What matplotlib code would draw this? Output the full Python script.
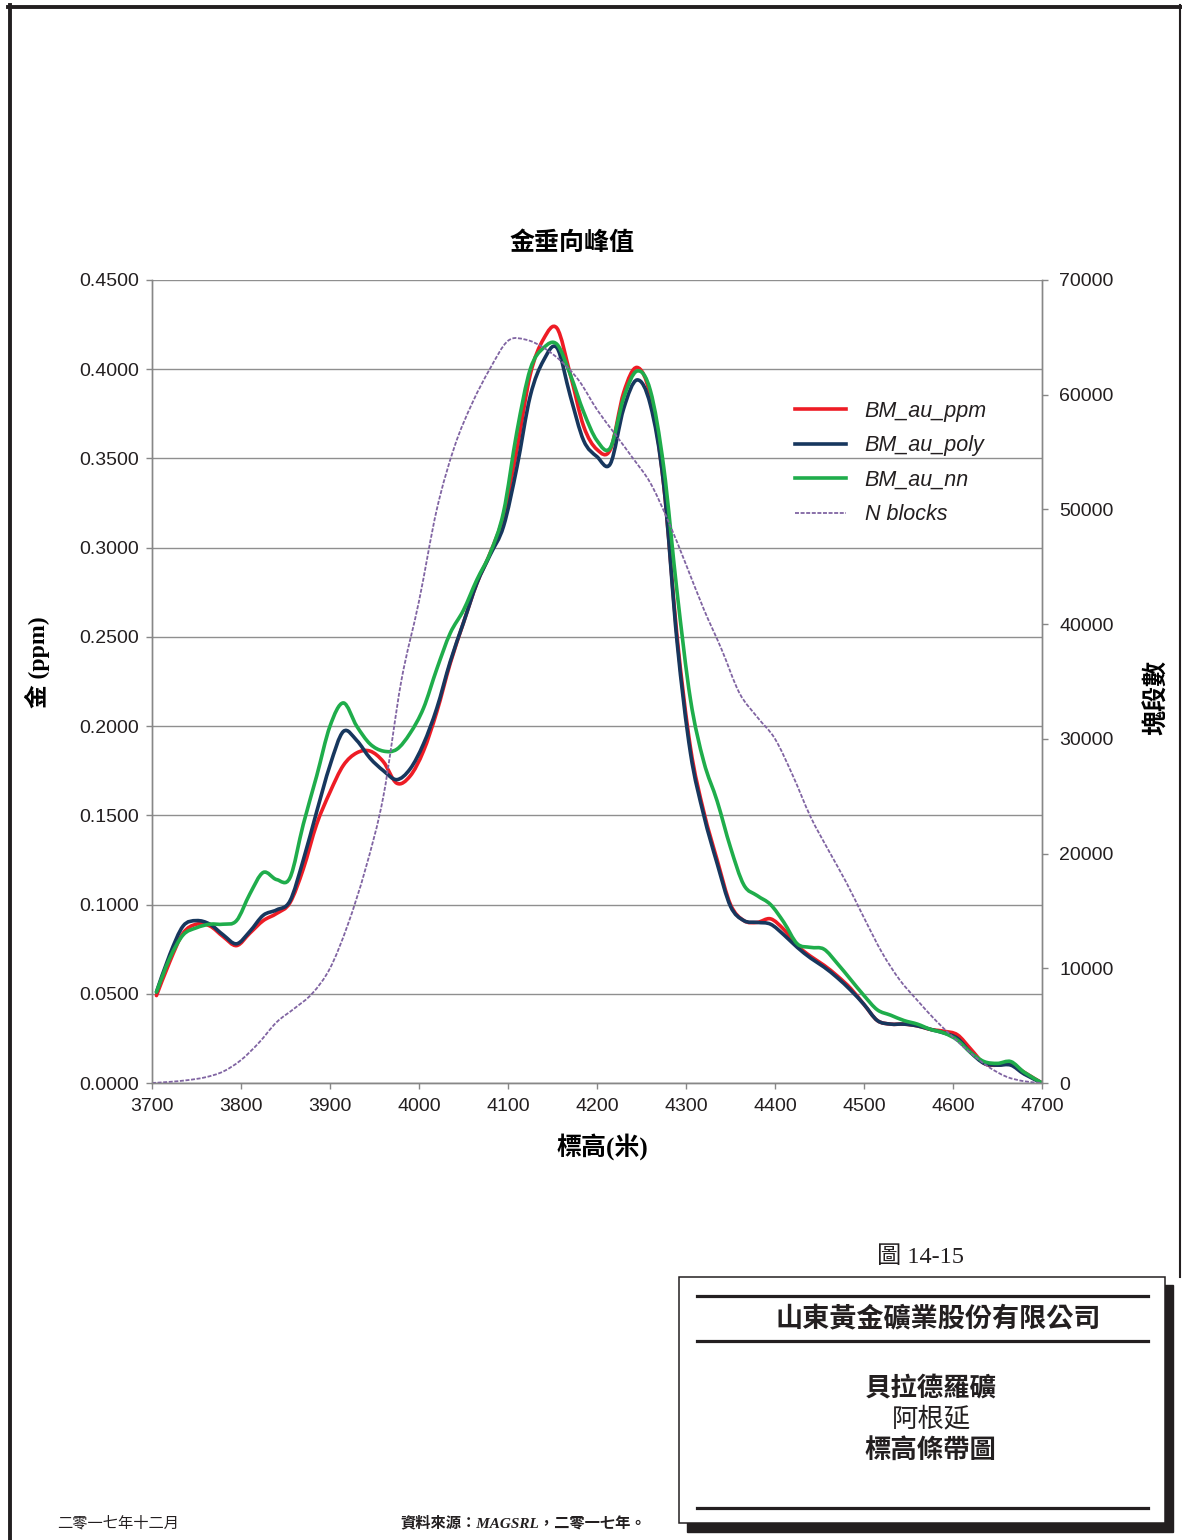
import numpy as np
import matplotlib
matplotlib.use("Agg")
from matplotlib import pyplot as plt
from matplotlib.path import Path
from matplotlib.patches import PathPatch, Rectangle
from matplotlib.lines import Line2D

# elevation (m) of each bench used for the grade curves
elev = [3705, 3720, 3735, 3750, 3765, 3780, 3795, 3810, 3825, 3840, 3855, 3870,
        3885, 3900, 3915, 3930, 3945, 3960, 3975, 3990, 4005, 4020, 4035, 4050,
        4065, 4080, 4095, 4110, 4125, 4140, 4155, 4170, 4185, 4200, 4215, 4230,
        4245, 4260, 4275, 4290, 4305, 4320, 4335, 4350, 4365, 4380, 4395, 4410,
        4425, 4440, 4455, 4470, 4485, 4500, 4515, 4530, 4545, 4560, 4575, 4590,
        4605, 4620, 4635, 4650, 4665, 4680, 4700]

au_ppm = [0.049, 0.068, 0.084, 0.089, 0.088, 0.082, 0.077, 0.084, 0.091, 0.095, 0.101, 0.120,
          0.145, 0.163, 0.178, 0.185, 0.186, 0.180, 0.168, 0.172, 0.186, 0.208, 0.235, 0.258,
          0.280, 0.297, 0.318, 0.355, 0.397, 0.417, 0.423, 0.397, 0.368, 0.355, 0.355, 0.387,
          0.401, 0.385, 0.335, 0.250, 0.188, 0.152, 0.125, 0.100, 0.091, 0.090, 0.092, 0.086,
          0.077, 0.071, 0.066, 0.060, 0.053, 0.044, 0.035, 0.033, 0.033, 0.032, 0.030, 0.029,
          0.027, 0.019, 0.011, 0.010, 0.011, 0.006, 0.000]

au_poly = [0.051, 0.072, 0.088, 0.091, 0.089, 0.083, 0.078, 0.085, 0.094, 0.097, 0.102, 0.125,
           0.152, 0.178, 0.197, 0.192, 0.182, 0.175, 0.170, 0.176, 0.190, 0.210, 0.236, 0.258,
           0.280, 0.296, 0.312, 0.345, 0.385, 0.405, 0.412, 0.385, 0.360, 0.351, 0.347, 0.378,
           0.394, 0.380, 0.335, 0.247, 0.185, 0.150, 0.123, 0.099, 0.091, 0.090, 0.089, 0.083,
           0.076, 0.070, 0.065, 0.059, 0.052, 0.044, 0.035, 0.033, 0.033, 0.032, 0.030, 0.028,
           0.025, 0.017, 0.011, 0.010, 0.010, 0.005, 0.000]

au_nn = [0.051, 0.070, 0.083, 0.087, 0.089, 0.089, 0.091, 0.106, 0.118, 0.114, 0.115, 0.145,
         0.172, 0.200, 0.213, 0.200, 0.190, 0.186, 0.187, 0.196, 0.210, 0.232, 0.252, 0.265,
         0.282, 0.297, 0.320, 0.365, 0.400, 0.412, 0.414, 0.397, 0.376, 0.360, 0.356, 0.384,
         0.399, 0.388, 0.345, 0.275, 0.215, 0.180, 0.158, 0.132, 0.111, 0.105, 0.100, 0.090,
         0.078, 0.076, 0.075, 0.067, 0.058, 0.049, 0.041, 0.038, 0.035, 0.033, 0.030, 0.028,
         0.024, 0.017, 0.012, 0.011, 0.012, 0.006, 0.000]

# number of blocks per elevation
blocks_elev = [3700, 3720, 3740, 3760, 3780, 3800, 3820, 3840, 3860, 3880, 3900, 3920, 3940,
               3960, 3980, 4000, 4020, 4040, 4060, 4080, 4100, 4120, 4140, 4160, 4180, 4200,
               4220, 4240, 4260, 4280, 4300, 4320, 4340, 4360, 4380, 4400, 4420, 4440, 4460,
               4480, 4500, 4520, 4540, 4560, 4580, 4600, 4620, 4640, 4660, 4680, 4700]
n_blocks = [0, 100, 250, 500, 1000, 2000, 3500, 5300, 6500, 7800, 10000, 13800, 18700,
            25000, 35000, 42000, 50000, 55500, 59300, 62300, 64700, 64800, 64100, 62900, 61200, 58700,
            56600, 54500, 52300, 49000, 45200, 41300, 37800, 34000, 31900, 30000, 26800, 23200, 20300,
            17500, 14400, 11400, 9000, 7200, 5500, 4000, 2600, 1400, 550, 150, 0]

labels = ["BM_au_ppm", "BM_au_poly", "BM_au_nn", "N blocks"]
colors = ["#ee1c25", "#17375e", "#1fad4b", "#8064a2"]

W, H = 1182, 1540
font = 14
cjk = "Noto Sans CJK TC"


def fx(x):
    return x / W


def fy(y):
    return 1 - y / H


def smooth_path(xs, ys):
    # cubic bezier through the points (excel style smoothed line)
    pts = np.column_stack([xs, ys]).astype(float)
    n = len(pts)
    verts = [pts[0]]
    codes = [Path.MOVETO]
    for i in range(n - 1):
        p0 = pts[i - 1] if i > 0 else pts[i]
        p1 = pts[i]
        p2 = pts[i + 1]
        p3 = pts[i + 2] if i + 2 < n else pts[i + 1]
        verts += [p1 + (p2 - p0) / 6, p2 - (p3 - p1) / 6, p2]
        codes += [Path.CURVE4] * 3
    return Path(verts, codes)


fig = plt.figure(figsize=(W / 100, H / 100), dpi=100)
ax = fig.add_axes([fx(152), fy(1083), fx(1042 - 152), (1083 - 280) / H])
ax2 = ax.twinx()

grey = "#878787"
ax.set_xlim(3700, 4700)
ax.set_ylim(0, 0.45)
ax2.set_ylim(0, 70000)
ax.set_xticks(np.arange(3700, 4701, 100))
ax.set_yticks(np.arange(0, 0.4501, 0.05))
ax2.set_yticks(np.arange(0, 70001, 10000))
ax.set_yticklabels(["%.4f" % v for v in np.arange(0, 0.4501, 0.05)])
ax.yaxis.grid(True, color="#8f8f8f", linewidth=1.0)
ax.set_axisbelow(True)

for a in (ax, ax2):
    for s in a.spines.values():
        s.set_color(grey)
        s.set_linewidth(1.0)
    a.spines["top"].set_visible(False)
    a.tick_params(colors=grey, labelcolor="#231f20", labelsize=font, length=4.5, width=1.0)
    for t in a.get_xticklabels() + a.get_yticklabels():
        t.set_family("Liberation Sans")
ax.tick_params(axis="y", pad=5)
ax.tick_params(axis="x", pad=6)
ax2.tick_params(axis="y", pad=8)

for ys, c in zip([au_ppm, au_poly, au_nn], colors[:3]):
    ax.add_patch(PathPatch(smooth_path(elev, ys), fill=False, edgecolor=c, linewidth=2.6,
                           capstyle="round", joinstyle="round"))
ax2.add_patch(PathPatch(smooth_path(blocks_elev, n_blocks), fill=False, edgecolor=colors[3],
                        linewidth=1.3, linestyle=(0, (2.2, 0.9))))

handles = [Line2D([], [], color=c, linewidth=2.6) for c in colors[:3]]
handles.append(Line2D([], [], color=colors[3], linewidth=1.3, linestyle=(0, (2.2, 0.9))))
leg = fig.legend(handles, labels, loc="upper left", bbox_to_anchor=(fx(795), fy(401)),
                 frameon=False, borderpad=0, borderaxespad=0, handlelength=2.35,
                 handletextpad=0.88, labelspacing=0.62,
                 prop={"family": "Liberation Sans", "style": "italic", "size": 15.5})
for t in leg.get_texts():
    t.set_color("#231f20")

# chart titles
fig.text(fx(572), fy(243), "金垂向峰值", ha="center", va="center", fontsize=18,
         fontweight="bold", family=[cjk])
fig.text(fx(602), fy(1147), "標高(米)", ha="center", va="center", fontsize=18,
         fontweight="bold", family=["Liberation Serif", cjk])
fig.text(fx(37), fy(662), "金 (ppm)", ha="center", va="center", rotation=90, fontsize=17,
         fontweight="bold", family=["Liberation Serif", cjk])
fig.text(fx(1157), fy(697), "塊段數", ha="center", va="center", rotation=90, fontsize=18,
         fontweight="bold", family=[cjk])

# page frame
ink = "#231f20"
fig.add_artist(Line2D([fx(10), fx(10)], [fy(5), fy(1540)], color=ink, linewidth=2.8))
fig.add_artist(Line2D([fx(8), fx(1182)], [fy(7), fy(7)], color=ink, linewidth=2.8))
fig.add_artist(Line2D([fx(1180), fx(1180)], [fy(5), fy(1277)], color=ink, linewidth=1.5))

# caption box with drop shadow
fig.add_artist(Rectangle((fx(687), fy(1532)), fx(1173 - 687), (1532 - 1285) / H,
                         facecolor=ink, edgecolor=ink, transform=fig.transFigure))
fig.add_artist(Rectangle((fx(679), fy(1523)), fx(1165 - 679), (1523 - 1277) / H,
                         facecolor="white", edgecolor=ink, linewidth=1.1, transform=fig.transFigure))
for yy in (1296, 1341, 1508):
    fig.add_artist(Line2D([fx(697), fx(1148)], [fy(yy), fy(yy)], color=ink, linewidth=2.3))

fig.text(fx(921), fy(1257), "圖 14-15", ha="center", va="center", fontsize=17.5,
         color=ink, family=["Liberation Serif", cjk])
fig.text(fx(938), fy(1319), "山東黃金礦業股份有限公司", ha="center", va="center", fontsize=19.5,
         fontweight="bold", color=ink, family=[cjk])
fig.text(fx(931), fy(1388), "貝拉德羅礦", ha="center", va="center", fontsize=19,
         fontweight="bold", style="italic", color=ink, family=[cjk])
fig.text(fx(931), fy(1419), "阿根延", ha="center", va="center", fontsize=19,
         fontweight="light", style="italic", color=ink, family=[cjk])
fig.text(fx(930), fy(1450), "標高條帶圖", ha="center", va="center", fontsize=19,
         fontweight="bold", color=ink, family=[cjk])

fig.text(fx(57), fy(1523), "二零一七年十二月", ha="left", va="center", fontsize=11,
         style="italic", color=ink, family=[cjk])
fig.text(fx(400), fy(1523), "資料來源：MAGSRL，二零一七年。", ha="left", va="center",
         fontsize=11, fontweight="bold", style="italic", color=ink,
         family=["Liberation Serif", cjk])

fig.savefig("out.png", dpi=100)
